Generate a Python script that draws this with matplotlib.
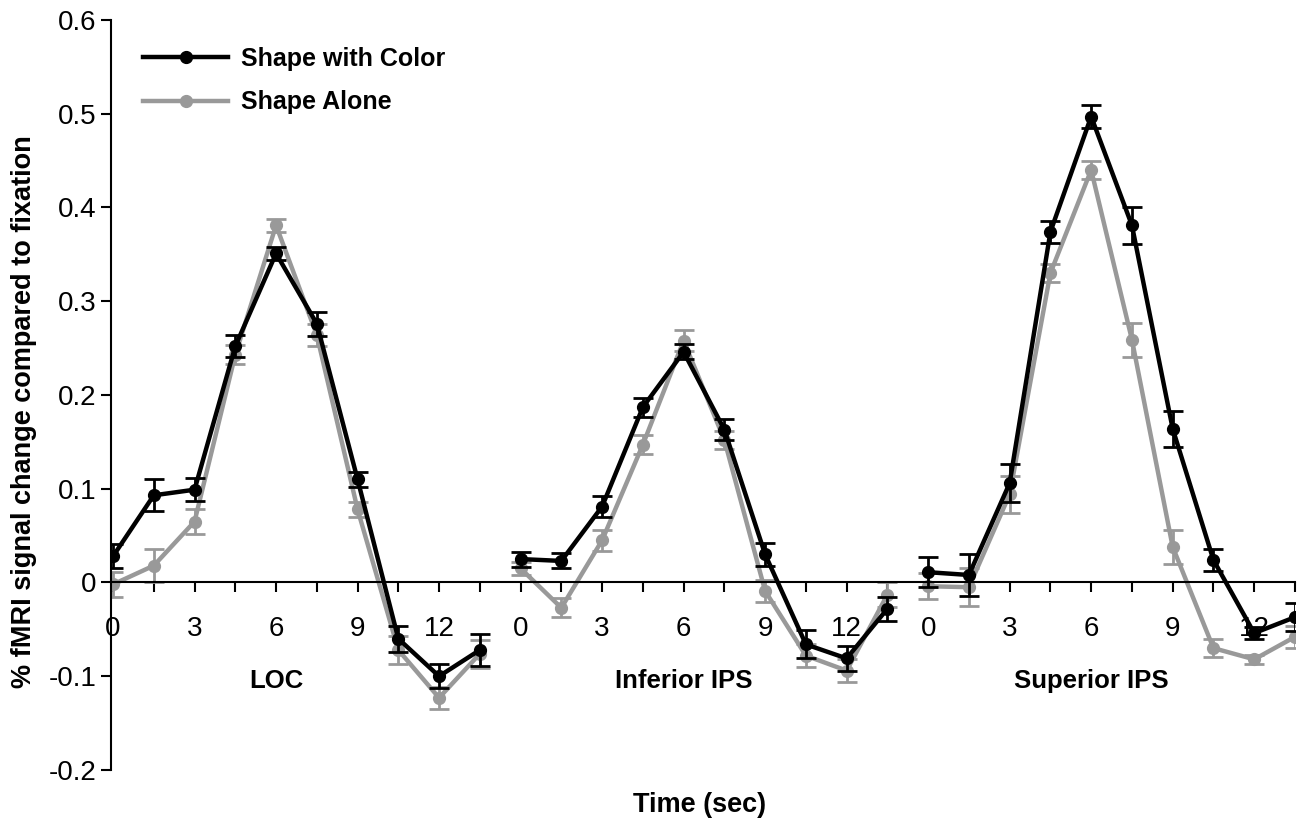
import matplotlib.pyplot as plt
from matplotlib.lines import Line2D
import numpy as np

plt.rcParams['font.family'] = ['Liberation Sans', 'DejaVu Sans']

# regiones y tiempos (segundos)
regions = ['LOC', 'Inferior IPS', 'Superior IPS']
times = [0, 1.5, 3, 4.5, 6, 7.5, 9, 10.5, 12, 13.5]
tick_labels = ['0', '', '3', '', '6', '', '9', '', '12', '']

# Shape with Color
color_loc = [0.028, 0.093, 0.099, 0.252, 0.351, 0.276, 0.110, -0.060, -0.100, -0.072]
color_inf = [0.025, 0.023, 0.081, 0.187, 0.246, 0.163, 0.030, -0.066, -0.081, -0.028]
color_sup = [0.011, 0.008, 0.106, 0.374, 0.497, 0.381, 0.164, 0.024, -0.054, -0.037]
color_loc_err = [0.013, 0.017, 0.012, 0.012, 0.007, 0.013, 0.008, 0.014, 0.013, 0.017]
color_inf_err = [0.008, 0.008, 0.011, 0.010, 0.008, 0.011, 0.012, 0.015, 0.013, 0.013]
color_sup_err = [0.016, 0.022, 0.020, 0.012, 0.012, 0.020, 0.019, 0.012, 0.006, 0.015]

# Shape Alone
alone_loc = [-0.002, 0.018, 0.065, 0.243, 0.381, 0.264, 0.078, -0.072, -0.123, -0.076]
alone_inf = [0.015, -0.027, 0.045, 0.147, 0.258, 0.152, -0.009, -0.078, -0.094, -0.013]
alone_sup = [-0.004, -0.005, 0.094, 0.330, 0.440, 0.259, 0.038, -0.070, -0.082, -0.058]
alone_loc_err = [0.013, 0.018, 0.013, 0.010, 0.007, 0.012, 0.008, 0.015, 0.012, 0.015]
alone_inf_err = [0.007, 0.010, 0.011, 0.010, 0.011, 0.010, 0.012, 0.012, 0.012, 0.013]
alone_sup_err = [0.014, 0.020, 0.020, 0.010, 0.010, 0.018, 0.018, 0.010, 0.005, 0.012]

color_data = [(color_loc, color_loc_err), (color_inf, color_inf_err), (color_sup, color_sup_err)]
alone_data = [(alone_loc, alone_loc_err), (alone_inf, alone_inf_err), (alone_sup, alone_sup_err)]

GRAY = '#999999'

fig = plt.figure(figsize=(13.12, 8.23), dpi=100)
ax = fig.add_axes([0.0846, 0.0644, 0.9024, 0.9113])

n = len(times)
for k, region in enumerate(regions):
    x = np.arange(n) + k * n
    y2, e2 = alone_data[k]
    y1, e1 = color_data[k]
    ax.errorbar(x, y2, yerr=e2, color=GRAY, lw=3.2, marker='o', markersize=8.5,
                capsize=7, capthick=2, elinewidth=2, zorder=2)
    ax.errorbar(x, y1, yerr=e1, color='black', lw=3.2, marker='o', markersize=8.5,
                capsize=7, capthick=2, elinewidth=2, zorder=3)
    ax.text(k * n + 4, -0.105, region, ha='center', va='center',
            fontsize=18.5, fontweight='bold')

ax.set_xlim(-0.05, 3 * n - 1)
ax.set_ylim(-0.2, 0.6)

ax.spines['top'].set_visible(False)
ax.spines['right'].set_visible(False)
ax.spines['bottom'].set_position(('data', 0))
ax.spines['left'].set_linewidth(1.5)
ax.spines['bottom'].set_linewidth(1.5)

ax.set_xticks(np.arange(3 * n))
ax.set_xticklabels(tick_labels * 3)
ax.set_yticks([-0.2, -0.1, 0, 0.1, 0.2, 0.3, 0.4, 0.5, 0.6])
ax.set_yticklabels(['-0.2', '-0.1', '0', '0.1', '0.2', '0.3', '0.4', '0.5', '0.6'])
ax.tick_params(axis='both', direction='out', length=7, width=1.5, labelsize=20)
ax.tick_params(axis='x', pad=17)

fig.text(0.533, 0.022, 'Time (sec)', ha='center', va='center', fontsize=19.5, fontweight='bold')
fig.text(0.018, 0.5, '% fMRI signal change compared to fixation', rotation=90,
         ha='center', va='center', fontsize=19.5, fontweight='bold')

handles = [Line2D([], [], color='black', lw=3.2, marker='o', markersize=8.5),
           Line2D([], [], color=GRAY, lw=3.2, marker='o', markersize=8.5)]
ax.legend(handles, ['Shape with Color', 'Shape Alone'], loc='upper left',
          bbox_to_anchor=(0.109, 0.943), bbox_transform=fig.transFigure,
          frameon=False, borderpad=0, borderaxespad=0,
          handlelength=3.4, handletextpad=0.5, labelspacing=0.78,
          prop={'size': 18, 'weight': 'bold'})

plt.savefig('out.png')
